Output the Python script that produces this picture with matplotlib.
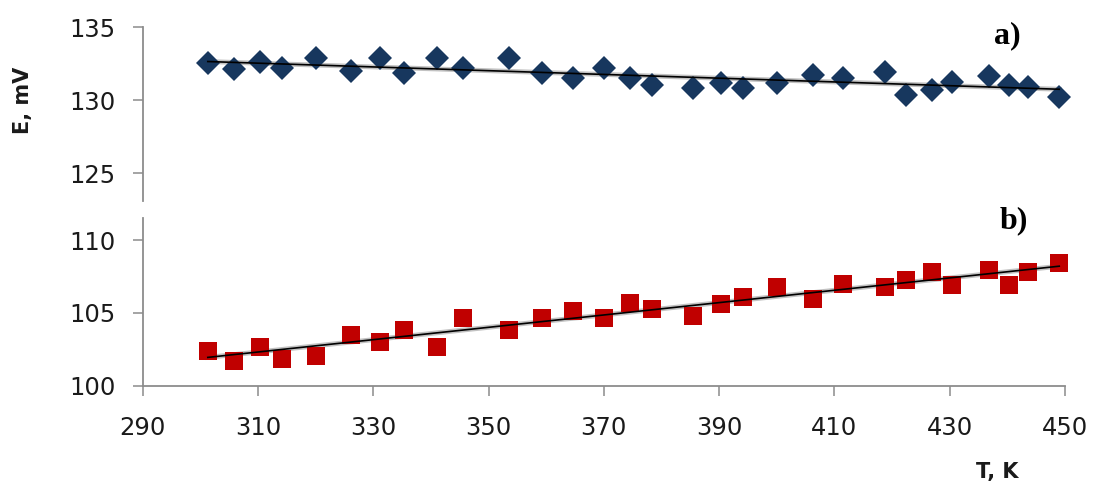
import numpy as np
import matplotlib
matplotlib.use("Agg")
import matplotlib.pyplot as plt

# temperature, K (shared by both series)
T = [301.3, 305.8, 310.4, 314.2, 320.0, 326.2, 331.1, 335.3, 341.1, 345.6,
     353.5, 359.3, 364.7, 370.0, 374.6, 378.4, 385.4, 390.4, 394.1, 400.0,
     406.2, 411.5, 418.7, 422.4, 427.0, 430.4, 436.8, 440.3, 443.5, 449.0]

# series a), mV
E_a = [132.53, 132.14, 132.64, 132.19, 132.88, 132.03, 132.88, 131.85, 132.88, 132.19,
       132.88, 131.85, 131.51, 132.19, 131.51, 131.05, 130.86, 131.21, 130.86, 131.21,
       131.73, 131.55, 131.96, 130.36, 130.71, 131.27, 131.66, 131.05, 130.89, 130.21]

# series b), mV
E_b = [102.41, 101.70, 102.68, 101.84, 102.04, 103.49, 103.03, 103.83, 102.68, 104.63,
       103.83, 104.63, 105.16, 104.63, 105.66, 105.30, 104.82, 105.62, 106.12, 106.81,
       105.94, 106.97, 106.77, 107.27, 107.80, 106.93, 107.96, 106.93, 107.80, 108.42]

x_ticks = [290, 310, 330, 350, 370, 390, 410, 430, 450]
top_ticks = [125, 130, 135]
bot_ticks = [100, 105, 110]

T = np.array(T)
spine_col = '#8c8c8c'
txt_col = '#1a1a1a'

fig = plt.figure(figsize=(10.94, 4.84), dpi=100)
ax_top = fig.add_axes([0.1304, 0.5847, 0.8431, 0.3589])
ax_bot = fig.add_axes([0.1304, 0.2031, 0.8431, 0.3459])


def trend(ax, y):
    # linear trendline, like Excel's
    k, b = np.polyfit(T, y, 1)
    xs = np.array([T.min(), T.max()])
    ax.plot(xs, k * xs + b, color='#9a9a9a', lw=3.5, alpha=0.6, zorder=2)
    ax.plot(xs, k * xs + b, color='black', lw=1.2, zorder=4)


ax_top.plot(T, E_a, 'D', ms=12.5, color='#17375e', mew=0, zorder=3, clip_on=False)
trend(ax_top, E_a)
ax_bot.plot(T, E_b, 's', ms=13.5, color='#c00000', mew=0, zorder=3, clip_on=False)
trend(ax_bot, E_b)

ax_top.set_xlim(290, 450)
ax_top.set_ylim(123.1, 135)
ax_bot.set_xlim(290, 450)
ax_bot.set_ylim(100, 111.5)

for ax in (ax_top, ax_bot):
    for s in ('top', 'right'):
        ax.spines[s].set_visible(False)
    for s in ('left', 'bottom'):
        ax.spines[s].set_color(spine_col)
        ax.spines[s].set_linewidth(1.3)
    ax.tick_params(axis='both', direction='out', length=7.5, width=1.1,
                   color=spine_col, labelcolor=txt_col, labelsize=17.5)
    ax.tick_params(axis='y', pad=12)
    ax.tick_params(axis='x', pad=14)

ax_top.spines['bottom'].set_visible(False)
ax_top.set_xticks([])
ax_top.set_yticks(top_ticks)
ax_bot.set_yticks(bot_ticks)
ax_bot.set_xticks(x_ticks)

fig.text(0.021, 0.793, 'E, mV', rotation=90, fontsize=15, fontweight='bold',
         ha='center', va='center', color=txt_col)
fig.text(0.912, 0.025, 'T, K', fontsize=15, fontweight='bold',
         ha='center', va='center', color=txt_col)
fig.text(0.921, 0.927, 'a)', fontsize=23, fontweight='bold',
         family='Liberation Serif', ha='center', va='center', color='black')
fig.text(0.927, 0.545, 'b)', fontsize=23, fontweight='bold',
         family='Liberation Serif', ha='center', va='center', color='black')

fig.savefig('out.png', dpi=100)
